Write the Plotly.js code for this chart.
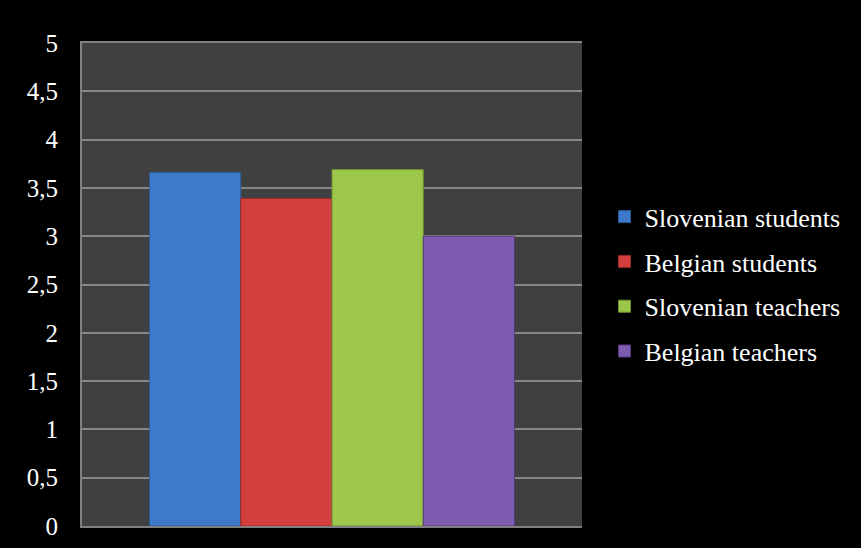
<!DOCTYPE html>
<html>
<head>
<meta charset="utf-8">
<script src="https://cdn.plot.ly/plotly-3.0.1.min.js"></script>
<style>html,body{margin:0;padding:0;background:#000;}#chart{width:861px;height:548px;}</style>
</head>
<body>
<div id="chart"></div>
<script>
var category = [""];
var seriesNames = ["Slovenian students", "Belgian students", "Slovenian teachers", "Belgian teachers"];
var seriesValues = [3.66, 3.39, 3.69, 3.0];
var seriesColors = ["#3d7acb", "#d23f3c", "#9dc74a", "#7d5cb0"];
var lineColors = ["#2a5a96", "#9a2a28", "#6f9030", "#55397f"];
var yTickVals = [0, 0.5, 1, 1.5, 2, 2.5, 3, 3.5, 4, 4.5, 5];

var traces = seriesNames.map(function (n, i) {
  return {
    type: "bar",
    name: n,
    x: category,
    y: [seriesValues[i]],
    legendgroup: "g" + i,
    marker: { color: seriesColors[i], line: { color: lineColors[i], width: 1 } },
    hoverinfo: "none"
  };
});

var layout = {
  width: 861, height: 548,
  paper_bgcolor: "#000000",
  plot_bgcolor: "#404040",
  margin: { l: 82, r: 279, t: 43, b: 22 },
  barmode: "group",
  bargap: 0.27,
  bargroupgap: 0,
  separators: ",.",
  font: { family: "Liberation Serif, Times New Roman, serif", color: "#ffffff", size: 25 },
  xaxis: {
    showticklabels: false, ticks: "", showgrid: false, zeroline: false,
    showline: true, linecolor: "#808080", linewidth: 2, mirror: true
  },
  yaxis: {
    range: [0, 5], tickvals: yTickVals, ticks: "",
    showgrid: true, gridcolor: "#858585", gridwidth: 2,
    zeroline: false, showline: true, linecolor: "#808080", linewidth: 2,
    ticklabelstandoff: 17,
    tickfont: { size: 25, color: "#ffffff" }
  },
  showlegend: true,
  legend: {
    x: 1.045, xanchor: "left", y: 0.689, yanchor: "top",
    traceorder: "grouped", tracegroupgap: 8,
    font: { size: 26, color: "#ffffff" },
    bgcolor: "rgba(0,0,0,0)", itemwidth: 30
  }
};

Plotly.newPlot("chart", traces, layout, { displayModeBar: false, staticPlot: true });
</script>
</body>
</html>
